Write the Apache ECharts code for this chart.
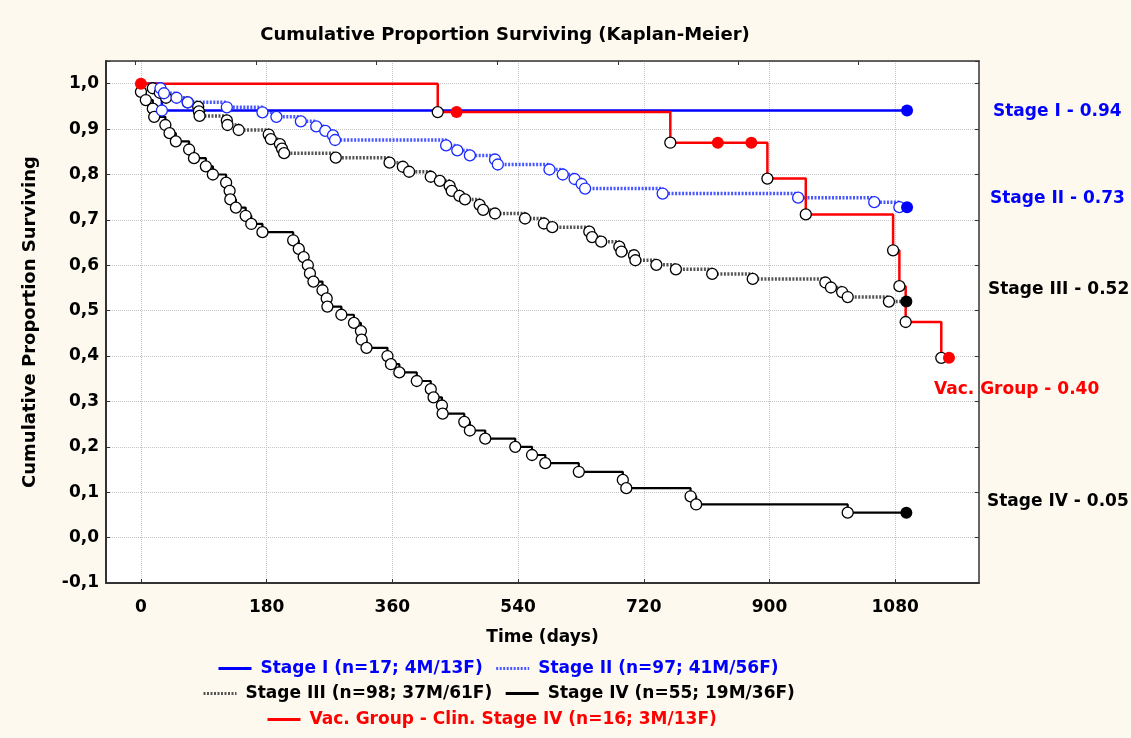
<!DOCTYPE html>
<html><head><meta charset="utf-8">
<script src="https://cdn.jsdelivr.net/npm/echarts@6/dist/echarts.min.js"></script>
<style>html,body{margin:0;padding:0;background:#fdf9ee;}#c{width:1131px;height:738px;}</style>
</head><body><div id="c"></div>
<script>
// ---- text ----
const chartTitle = 'Cumulative Proportion Surviving (Kaplan-Meier)';
const xName = 'Time (days)';
const yName = 'Cumulative Proportion Surviving';
const seriesNames = [
  'Stage I (n=17; 4M/13F)',
  'Stage II (n=97; 41M/56F)',
  'Stage III (n=98; 37M/61F)',
  'Stage IV (n=55; 19M/36F)',
  'Vac. Group - Clin. Stage IV (n=16; 3M/13F)'
];
const endLabels = ['Stage I - 0.94', 'Stage II - 0.73', 'Stage III - 0.52', 'Vac. Group - 0.40', 'Stage IV - 0.05'];

// ---- ticks ----
const xTicks = [0, 180, 360, 540, 720, 900, 1080];
const topTicks = [-8, 165, 337, 510, 683, 855, 1027];

// ---- data: [day, cumulative proportion surviving] ----
const stage1Curve = [[0, 1.0], [30, 0.941]];
const stage1Marks = [[1097, 0.941]];

const stage2Curve = [[0, 1.0], [28, 0.990], [33, 0.979], [51, 0.969], [67, 0.959], [123, 0.948], [174, 0.937],
  [194, 0.927], [229, 0.917], [251, 0.906], [264, 0.896], [275, 0.886], [278, 0.876], [437, 0.864], [453, 0.853],
  [471, 0.842], [507, 0.833], [511, 0.822], [585, 0.811], [604, 0.800], [621, 0.790], [631, 0.779], [636, 0.769],
  [747, 0.758], [941, 0.749], [1050, 0.739], [1086, 0.728]];
const stage2Marks = [[1097, 0.728]];

const stage3Curve = [[0, 1.0], [17, 0.990], [27, 0.980], [36, 0.969], [67, 0.959], [82, 0.949], [83, 0.939], [84, 0.929],
  [123, 0.919], [124, 0.909], [140, 0.898], [183, 0.888], [186, 0.878], [199, 0.867], [202, 0.857], [205, 0.847],
  [279, 0.837], [356, 0.826], [375, 0.817], [384, 0.806], [415, 0.795], [428, 0.786], [442, 0.775], [445, 0.764],
  [456, 0.753], [464, 0.745], [485, 0.733], [490, 0.722], [507, 0.714], [550, 0.703], [577, 0.692], [589, 0.684],
  [642, 0.674], [646, 0.662], [659, 0.652], [685, 0.641], [688, 0.630], [706, 0.622], [708, 0.611], [738, 0.601],
  [766, 0.591], [818, 0.581], [876, 0.570], [980, 0.562], [988, 0.551], [1004, 0.541], [1012, 0.530], [1071, 0.520]];
const stage3Marks = [[1096, 0.520]];

const stage4Curve = [[0, 1.0], [0, 0.982], [7, 0.964], [17, 0.945], [19, 0.927], [35, 0.909], [41, 0.891], [50, 0.873],
  [69, 0.855], [76, 0.836], [93, 0.818], [103, 0.800], [122, 0.782], [127, 0.764], [128, 0.745], [136, 0.727],
  [150, 0.709], [158, 0.691], [174, 0.673], [218, 0.655], [226, 0.636], [233, 0.618], [239, 0.600], [242, 0.582],
  [247, 0.564], [260, 0.545], [266, 0.527], [267, 0.509], [287, 0.491], [305, 0.473], [315, 0.455], [316, 0.436],
  [323, 0.418], [353, 0.400], [358, 0.382], [370, 0.364], [395, 0.345], [415, 0.327], [419, 0.309], [431, 0.291],
  [432, 0.273], [463, 0.255], [471, 0.236], [493, 0.218], [536, 0.200], [560, 0.182], [579, 0.164], [627, 0.145],
  [690, 0.127], [695, 0.109], [787, 0.091], [795, 0.073], [1012, 0.055]];
const stage4Marks = [[1096, 0.055]];

const vacCurve = [[0, 1.0], [425, 0.9375], [758, 0.870], [897, 0.791], [952, 0.712], [1077, 0.633], [1086, 0.554],
  [1095, 0.475], [1146, 0.396]];
const vacMarks = [[0, 1.0], [452, 0.9375], [826, 0.870], [874, 0.870], [1157, 0.396]];

// ---- build ----
const FONT = '"DejaVu Sans", "Liberation Sans", sans-serif';
const BLUE = '#0000ff', RED = '#ff0000';
const groups = [
  { name: seriesNames[2], curve: stage3Curve, marks: stage3Marks, color: '#555555', width: 3.5, type: [2, 1.5], ring: '#000', fill: '#000' },
  { name: seriesNames[3], curve: stage4Curve, marks: stage4Marks, color: '#000000', width: 2.2, type: 'solid', ring: '#000', fill: '#000' },
  { name: seriesNames[1], curve: stage2Curve, marks: stage2Marks, color: '#4a58ff', width: 3.5, type: [2, 1.5], ring: '#1a2aff', fill: BLUE },
  { name: seriesNames[0], curve: stage1Curve, marks: stage1Marks, color: BLUE, width: 2.5, type: 'solid', ring: '#1a2aff', fill: BLUE },
  { name: seriesNames[4], curve: vacCurve, marks: vacMarks, color: RED, width: 2.5, type: 'solid', ring: '#000', fill: RED }
];
const series = [];
groups.forEach(g => {
  const line = g.curve.concat(g.marks).sort((a, b) => a[0] - b[0]);
  series.push({
    type: 'line', name: g.name, data: line, step: 'end', symbol: 'none', color: g.color,
    lineStyle: { color: g.color, width: g.width, type: g.type }, z: 2, silent: true
  });
});
groups.forEach(g => {
  series.push({
    type: 'scatter', name: g.name + ' events', data: g.curve.slice(1), symbol: 'circle', symbolSize: 11,
    itemStyle: { color: '#ffffff', borderColor: g.ring, borderWidth: 1.3, opacity: 1 }, z: 3, silent: true
  });
});
groups.forEach(g => {
  series.push({
    type: 'scatter', name: g.name + ' end', data: g.marks, symbol: 'circle', symbolSize: 12,
    itemStyle: { color: g.fill, opacity: 1 }, z: 4, silent: true
  });
});

const labelStyle = { color: '#000', fontWeight: 'bold', fontSize: 17, fontFamily: FONT };
const legendBase = {
  orient: 'horizontal', itemWidth: 33, itemHeight: 14, itemGap: 12, selectedMode: false, padding: 0,
  itemStyle: { opacity: 0 },
  lineStyle: { width: 3 },
  textStyle: { fontWeight: 'bold', fontSize: 17, fontFamily: FONT, padding: [0, 0, 0, 4] }
};

const option = {
  animation: false,
  backgroundColor: '#fdf9ee',
  grid: { left: 106, right: 152, top: 61, bottom: 155, show: true, backgroundColor: '#ffffff', borderWidth: 0 },
  xAxis: [{
    type: 'value', min: -50, max: 1200, position: 'bottom',
    axisLine: { show: true, onZero: false, lineStyle: { color: '#333', width: 2 } },
    axisTick: { show: true, inside: true, length: 4, customValues: xTicks, lineStyle: { color: '#333' } },
    axisLabel: { customValues: xTicks, margin: 16, ...labelStyle, formatter: v => String(v) },
    splitLine: { show: true, lineStyle: { color: '#c6c6c6', type: 'dotted', width: 1 } },
    name: xName, nameLocation: 'middle', nameGap: 46, nameTextStyle: labelStyle
  }, {
    type: 'value', min: -50, max: 1200, position: 'top',
    axisLine: { show: true, onZero: false, lineStyle: { color: '#333', width: 1.5 } },
    axisTick: { show: true, inside: true, length: 4, customValues: topTicks, lineStyle: { color: '#333' } },
    axisLabel: { show: false }, splitLine: { show: false }
  }],
  yAxis: [{
    type: 'value', min: -0.1, max: 1.05, interval: 0.1, position: 'left',
    axisLine: { show: true, onZero: false, lineStyle: { color: '#333', width: 2 } },
    axisTick: { show: true, inside: true, length: 4, lineStyle: { color: '#333' } },
    axisLabel: { margin: 7, ...labelStyle, formatter: v => v > 1.001 ? '' : v.toFixed(1).replace('.', ',') },
    splitLine: { show: true, lineStyle: { color: '#c6c6c6', type: 'dotted', width: 1 } },
    name: yName, nameLocation: 'middle', nameGap: 67, nameTextStyle: { ...labelStyle, fontSize: 18 }
  }, {
    type: 'value', min: -0.1, max: 1.05, interval: 0.1, position: 'right',
    axisLine: { show: true, onZero: false, lineStyle: { color: '#333', width: 1.5 } },
    axisTick: { show: true, inside: true, length: 4, lineStyle: { color: '#333' } },
    axisLabel: { show: false }, splitLine: { show: false }
  }],
  legend: [
    { ...legendBase, left: 217, top: 660, data: [
      { name: seriesNames[0], textStyle: { color: BLUE } },
      { name: seriesNames[1], textStyle: { color: BLUE } }] },
    { ...legendBase, left: 202, top: 685, data: [
      { name: seriesNames[2], textStyle: { color: '#000' } },
      { name: seriesNames[3], textStyle: { color: '#000' } }] },
    { ...legendBase, left: 266, top: 711, data: [
      { name: seriesNames[4], textStyle: { color: RED } }] }
  ],
  graphic: [
    { type: 'text', x: 505, y: 35, style: { text: chartTitle, fill: '#000', font: 'bold 18px ' + FONT, align: 'center', verticalAlign: 'middle' } },
    { type: 'text', x: 993, y: 112, style: { text: endLabels[0], fill: BLUE, font: 'bold 17px ' + FONT, verticalAlign: 'middle' } },
    { type: 'text', x: 990, y: 199, style: { text: endLabels[1], fill: BLUE, font: 'bold 17px ' + FONT, verticalAlign: 'middle' } },
    { type: 'text', x: 988, y: 290, style: { text: endLabels[2], fill: '#000', font: 'bold 17px ' + FONT, verticalAlign: 'middle' } },
    { type: 'text', x: 934, y: 390, style: { text: endLabels[3], fill: RED, font: 'bold 17px ' + FONT, verticalAlign: 'middle' } },
    { type: 'text', x: 987, y: 502, style: { text: endLabels[4], fill: '#000', font: 'bold 17px ' + FONT, verticalAlign: 'middle' } }
  ],
  series: series
};
const chart = echarts.init(document.getElementById('c'), null, { renderer: 'canvas' });
chart.setOption(option);
</script>
</body></html>
